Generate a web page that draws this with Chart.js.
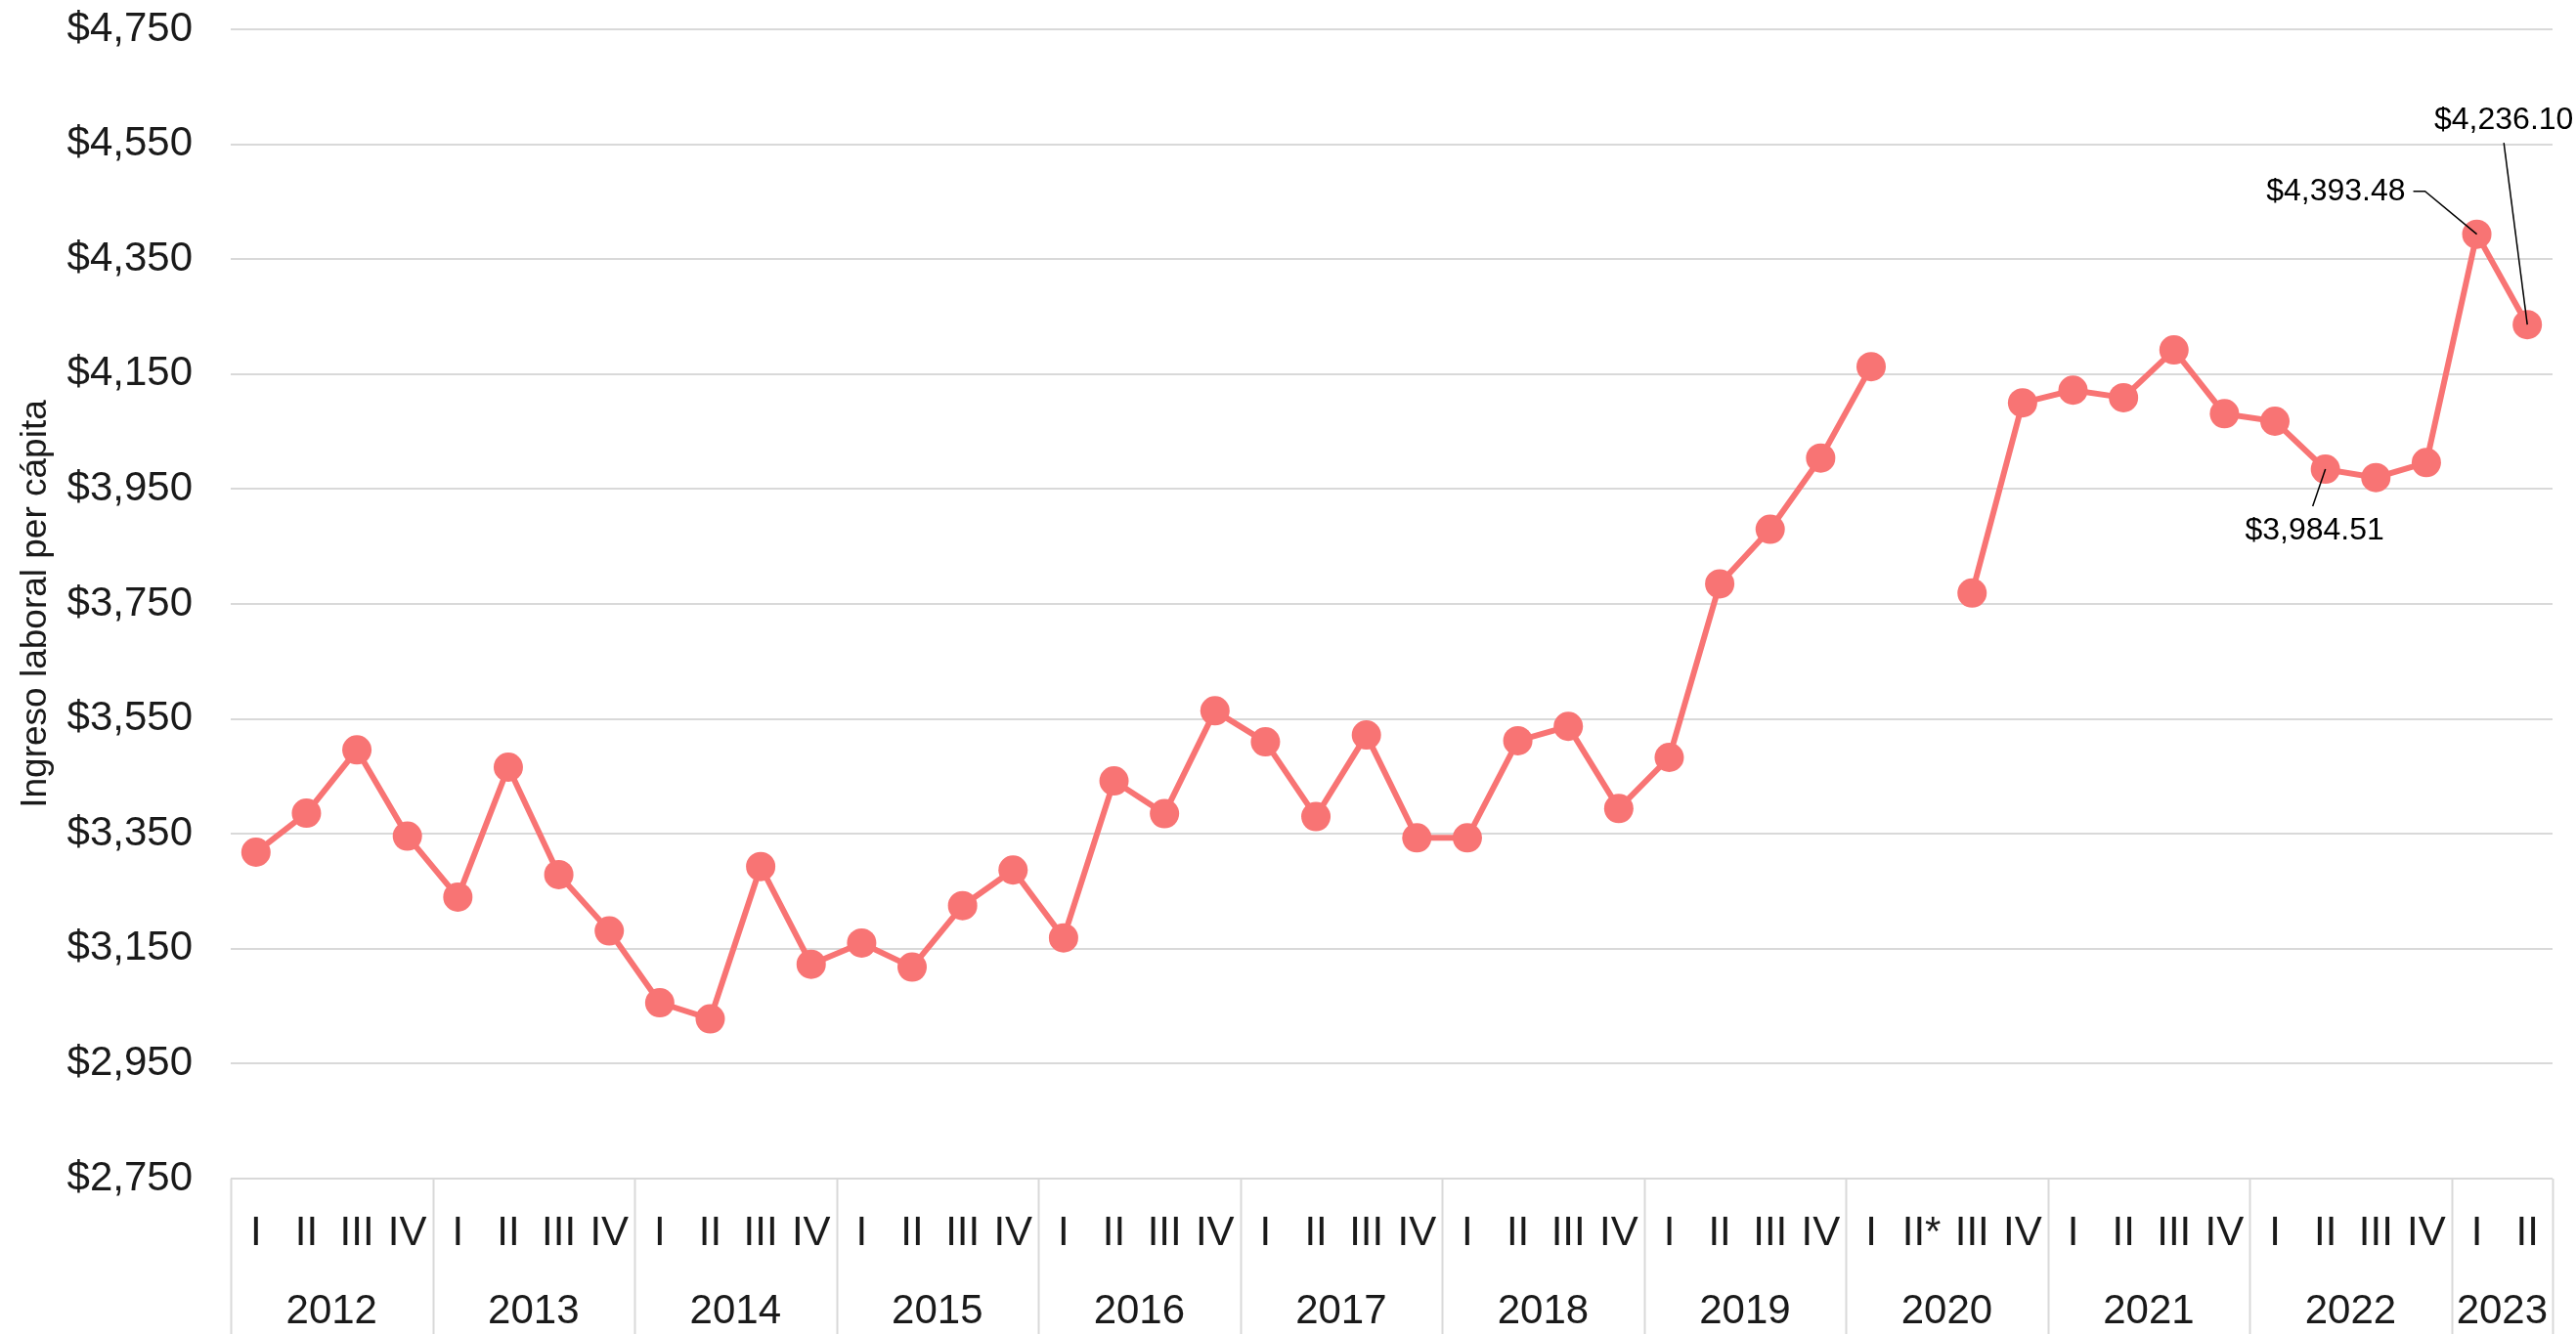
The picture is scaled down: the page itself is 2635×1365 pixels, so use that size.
<!DOCTYPE html>
<html>
<head>
<meta charset="utf-8">
<script src="https://cdn.jsdelivr.net/npm/chart.js@4.4.1/dist/chart.umd.min.js"></script>
<style>
  html, body { margin: 0; padding: 0; background: #fff; }
  #wrap { width: 2635px; height: 1365px; }
</style>
</head>
<body>
<div id="wrap"><canvas id="lineChart" width="2635" height="1365"></canvas></div>
<script>
// datos (ingreso laboral per capita, trimestral)
const years = ["2012", "2013", "2014", "2015", "2016", "2017", "2018", "2019", "2020", "2021", "2022", "2023"];
const quarterLabels = [
  "I", "II", "III", "IV",
  "I", "II", "III", "IV",
  "I", "II", "III", "IV",
  "I", "II", "III", "IV",
  "I", "II", "III", "IV",
  "I", "II", "III", "IV",
  "I", "II", "III", "IV",
  "I", "II", "III", "IV",
  "I", "II*", "III", "IV",
  "I", "II", "III", "IV",
  "I", "II", "III", "IV",
  "I", "II"
];
const quartersPerYear = [4, 4, 4, 4, 4, 4, 4, 4, 4, 4, 4, 2];
const ingreso = [
  3318, 3386, 3496, 3346,
  3240, 3466, 3279, 3181,
  3056, 3028, 3293, 3123,
  3160, 3118, 3225, 3287,
  3169, 3442, 3385, 3564,
  3510, 3380, 3522, 3343,
  3343, 3512, 3537, 3394,
  3483, 3785, 3880, 4004,
  4163, null, 3769, 4100,
  4122, 4109, 4192, 4081,
  4068, 3984.51, 3970, 3996,
  4393.48, 4236.10
];
const yTicks = [2750, 2950, 3150, 3350, 3550, 3750, 3950, 4150, 4350, 4550, 4750];
const labeledPoints = [41, 44, 45];

const FONT = "'Liberation Sans', Arial, sans-serif";
const TEXT = "#1a1a1a";
const GRID = "#d9d9d9";

function money(v, dec) {
  return "$" + v.toLocaleString("en-US", { minimumFractionDigits: dec, maximumFractionDigits: dec });
}

// separadores de anio y etiquetas de anio bajo los trimestres
const yearAxisPlugin = {
  id: "yearAxis",
  afterDraw(chart) {
    const ctx = chart.ctx;
    const x = chart.scales.x;
    const top = chart.chartArea.bottom;
    const bottom = chart.height;
    ctx.save();
    ctx.strokeStyle = GRID;
    ctx.lineWidth = 2;
    let start = 0;
    const edges = [start];
    quartersPerYear.forEach((n) => { start += n; edges.push(start); });
    edges.forEach((i) => {
      const px = Math.round(x.getPixelForValue(i - 0.5)) + 0.5;
      ctx.beginPath();
      ctx.moveTo(px, top);
      ctx.lineTo(px, bottom);
      ctx.stroke();
    });
    ctx.fillStyle = TEXT;
    ctx.font = "42px " + FONT;
    ctx.textAlign = "center";
    ctx.textBaseline = "middle";
    years.forEach((yr, k) => {
      const mid = (edges[k] + edges[k + 1] - 1) / 2;
      ctx.fillText(yr, x.getPixelForValue(mid), 1342);
    });
    ctx.restore();
  }
};

// etiquetas con linea guia para los ultimos valores
const calloutPlugin = {
  id: "callouts",
  afterDatasetsDraw(chart) {
    const ctx = chart.ctx;
    const pts = chart.getDatasetMeta(0).data;
    ctx.save();
    ctx.strokeStyle = "#000";
    ctx.lineWidth = 1.5;
    ctx.fillStyle = "#000";
    ctx.font = "32px " + FONT;

    // 2022 II: etiqueta debajo
    let p = pts[labeledPoints[0]];
    ctx.beginPath();
    ctx.moveTo(p.x, p.y);
    ctx.lineTo(p.x - 13, p.y + 38);
    ctx.stroke();
    ctx.textAlign = "center";
    ctx.textBaseline = "middle";
    ctx.fillText(money(ingreso[labeledPoints[0]], 2), p.x - 11, p.y + 63);

    // 2023 I: etiqueta a la izquierda con codo
    p = pts[labeledPoints[1]];
    ctx.beginPath();
    ctx.moveTo(p.x, p.y);
    ctx.lineTo(p.x - 53, p.y - 44);
    ctx.lineTo(p.x - 65, p.y - 44);
    ctx.stroke();
    ctx.textAlign = "right";
    ctx.fillText(money(ingreso[labeledPoints[1]], 2), p.x - 73, p.y - 43);

    // 2023 II: etiqueta arriba
    p = pts[labeledPoints[2]];
    ctx.beginPath();
    ctx.moveTo(p.x, p.y);
    ctx.lineTo(p.x - 24, p.y - 186);
    ctx.stroke();
    ctx.textAlign = "center";
    ctx.fillText(money(ingreso[labeledPoints[2]], 2), p.x - 24, p.y - 209);
    ctx.restore();
  }
};

const ctx = document.getElementById("lineChart").getContext("2d");
new Chart(ctx, {
  type: "line",
  data: {
    labels: quarterLabels,
    datasets: [
      {
        label: "Ingreso laboral per cápita",
        data: ingreso,
        borderColor: "#f87474",
        backgroundColor: "#f87474",
        borderWidth: 6,
        pointRadius: 15,
        pointBorderWidth: 0,
        pointHoverRadius: 15,
        tension: 0,
        spanGaps: false,
      },
    ],
  },
  options: {
    responsive: false,
    animation: false,
    devicePixelRatio: 1,
    layout: { padding: { top: 30, right: 24, bottom: 0, left: 0 } },
    plugins: {
      legend: { display: false },
      tooltip: { enabled: false },
    },
    scales: {
      x: {
        type: "category",
        offset: true,
        grid: { display: false, drawTicks: false },
        border: { display: false },
        ticks: {
          color: TEXT,
          font: { family: FONT, size: 42 },
          padding: 31,
          autoSkip: false,
          maxRotation: 0,
          minRotation: 0,
        },
        afterFit(scale) {
          scale.height = 159;
          scale.paddingLeft = 0;
          scale.paddingRight = 0;
        },
      },
      y: {
        min: yTicks[0],
        max: yTicks[yTicks.length - 1],
        afterBuildTicks(scale) { scale.ticks = yTicks.map((v) => ({ value: v })); },
        grid: { color: GRID, lineWidth: 2, drawTicks: false },
        border: { display: false },
        ticks: {
          color: TEXT,
          font: { family: FONT, size: 42 },
          padding: 39,
          callback: (v) => money(v, 0),
        },
        title: {
          display: true,
          text: "Ingreso laboral per cápita",
          color: TEXT,
          font: { family: FONT, size: 37 },
          padding: { top: 15, bottom: 0 },
        },
        afterFit(scale) {
          scale.width = 236;
          scale.paddingTop = 0;
          scale.paddingBottom = 0;
        },
      },
    },
  },
  plugins: [yearAxisPlugin, calloutPlugin],
});
</script>
</body>
</html>
